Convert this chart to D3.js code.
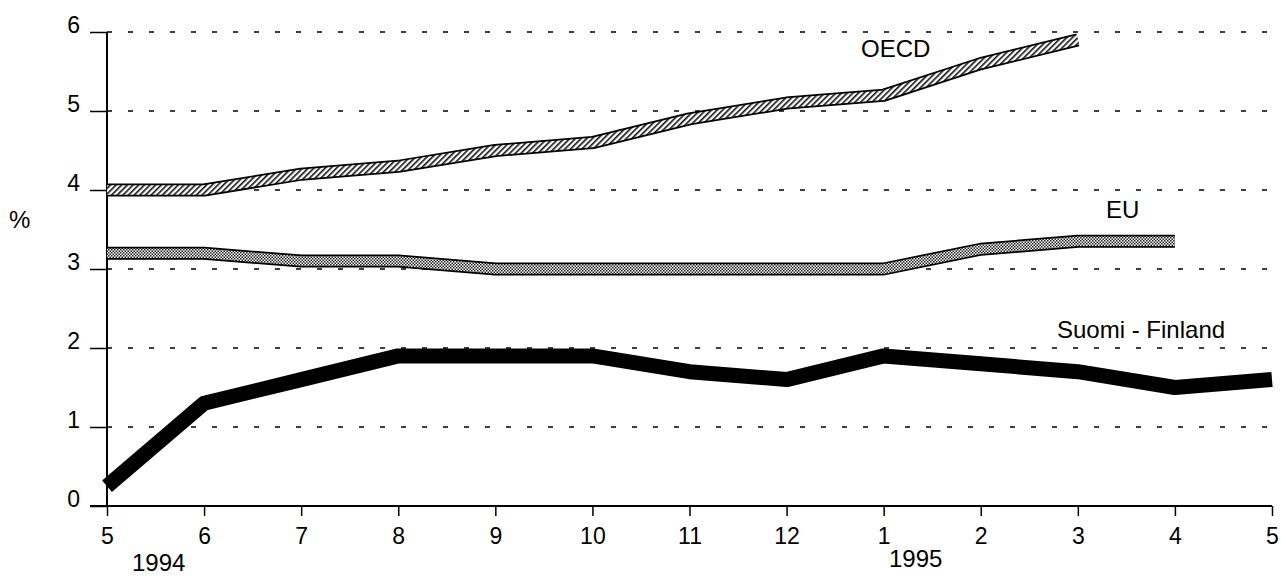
<!DOCTYPE html>
<html><head><meta charset="utf-8">
<script src="https://cdn.jsdelivr.net/npm/d3@7"></script>
<style>body{margin:0;background:#fff}svg{display:block}text{font-family:Arial,"Liberation Sans",Helvetica,sans-serif}</style>
</head><body>
<svg id="c" width="1281" height="576"></svg>
<script>
const months = ["5","6","7","8","9","10","11","12","1","2","3","4","5"];
const yTicks = [0,1,2,3,4,5,6];
const oecd = [4.0,4.0,4.2,4.3,4.5,4.6,4.9,5.1,5.2,5.6,5.9];
const eu = [3.2,3.2,3.1,3.1,3.0,3.0,3.0,3.0,3.0,3.25,3.35,3.35];
const finland = [0.25,1.3,1.6,1.9,1.9,1.9,1.7,1.6,1.9,1.8,1.7,1.5,1.6];

const svg = d3.select("#c");
const x = d3.scaleLinear().domain([0,12]).range([107,1272]);
const y = d3.scaleLinear().domain([0,6]).range([506,32]);

const defs = svg.append("defs");
const h = defs.append("pattern").attr("id","hatch").attr("patternUnits","userSpaceOnUse")
  .attr("width",4).attr("height",4).attr("patternTransform","rotate(45)");
h.append("rect").attr("width",4).attr("height",4).attr("fill","#fff");
h.append("rect").attr("width",1.6).attr("height",4).attr("fill","#111");
const ch = defs.append("pattern").attr("id","cross").attr("patternUnits","userSpaceOnUse")
  .attr("width",3).attr("height",3);
ch.append("rect").attr("width",3).attr("height",3).attr("fill","#fff");
ch.append("rect").attr("width",1.5).attr("height",1.5).attr("fill","#222");
ch.append("rect").attr("x",1.5).attr("y",1.5).attr("width",1.5).attr("height",1.5).attr("fill","#222");

// grid
svg.append("g").selectAll("line").data(yTicks.filter(d=>d>0)).join("line")
  .attr("x1",x(0)).attr("x2",x(12)).attr("y1",d=>y(d)).attr("y2",d=>y(d))
  .attr("stroke","#000").attr("stroke-width",1.5).attr("stroke-dasharray","5,16");

// axes
const xa = svg.append("g").attr("transform",`translate(0,${y(0)})`)
  .call(d3.axisBottom(x).tickValues(d3.range(13)).tickFormat(i=>months[i]).tickSize(10).tickPadding(12));
const ya = svg.append("g").attr("transform",`translate(${x(0)},0)`)
  .call(d3.axisLeft(y).tickValues(yTicks).tickFormat(d3.format("d")).tickSize(17).tickPadding(10));
[xa,ya].forEach(g=>{
  g.select(".domain").remove();
  g.selectAll("line").attr("stroke","#000").attr("stroke-width",1.5);
  g.selectAll("text").attr("font-size",23).attr("fill","#000");
});
ya.selectAll("text").attr("dy","0");
svg.append("line").attr("x1",x(0)-17).attr("x2",x(12)).attr("y1",y(0)).attr("y2",y(0)).attr("stroke","#000").attr("stroke-width",2);
svg.append("line").attr("x1",x(0)).attr("x2",x(0)).attr("y1",y(0)).attr("y2",y(6)).attr("stroke","#000").attr("stroke-width",2);

const line = d3.line().x((d,i)=>x(i)).y(d=>y(d));
function band(data, pat){
  svg.append("path").attr("d",line(data)).attr("fill","none").attr("stroke","#000").attr("stroke-width",13).attr("stroke-linejoin","round");
  svg.append("path").attr("d",line(data)).attr("fill","none").attr("stroke",`url(#${pat})`).attr("stroke-width",9.5).attr("stroke-linejoin","round");
}
band(oecd,"hatch");
band(eu,"cross");
svg.append("path").attr("d",line(finland)).attr("fill","none").attr("stroke","#000").attr("stroke-width",15).attr("stroke-linejoin","round");

// labels
const lab = (t,px,py,anchor="start")=>svg.append("text").attr("x",px).attr("y",py).attr("font-size",24).attr("text-anchor",anchor).text(t);
lab("OECD",861,57);
lab("EU",1106,218);
lab("Suomi - Finland",1057,338);
lab("%",9,228);
lab("1994",132,571);
lab("1995",889,567);
</script>
</body></html>
